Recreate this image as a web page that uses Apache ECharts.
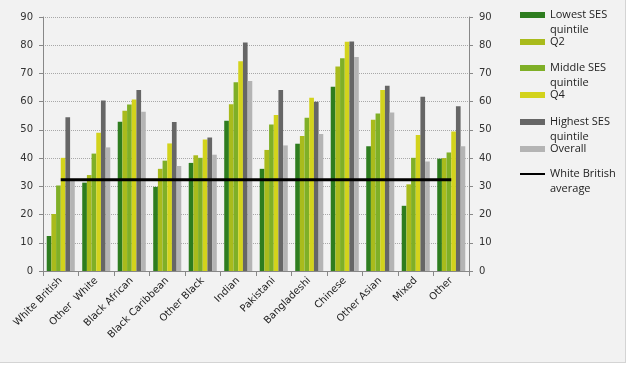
<!DOCTYPE html>
<html>
<head>
<meta charset="utf-8">
<script src="https://cdn.jsdelivr.net/npm/echarts@6/dist/echarts.min.js"></script>
<style>
html,body{margin:0;padding:0;background:#ffffff;}
#chart{position:absolute;left:0;top:0;width:625px;height:362px;background:#f2f2f2;border-right:1px solid #d4d4d4;border-bottom:1px solid #d4d4d4;}
</style>
</head>
<body>
<div id="chart"></div>
<script>
var categories = ['White British','Other  White','Black African','Black Caribbean','Other Black','Indian','Pakistani','Bangladeshi','Chinese','Other Asian','Mixed','Other'];
var lowest  = [12.4, 31.3, 52.9, 29.8, 38.3, 53.2, 36.2, 45.1, 65.3, 44.2, 23.1, 39.8];
var q2      = [20.2, 34.0, 56.8, 36.2, 41.0, 59.1, 42.9, 47.8, 72.5, 53.6, 30.7, 40.0];
var middle  = [30.3, 41.6, 59.0, 39.1, 40.1, 66.9, 51.9, 54.3, 75.4, 55.8, 40.1, 42.0];
var q4      = [40.1, 49.0, 60.8, 45.2, 46.6, 74.3, 55.3, 61.4, 81.2, 64.1, 48.2, 49.4];
var highest = [54.5, 60.4, 64.1, 52.8, 47.3, 81.0, 64.1, 60.0, 81.3, 65.6, 61.7, 58.4];
var overall = [32.0, 43.8, 56.4, 37.2, 41.2, 67.3, 44.5, 48.5, 75.8, 56.2, 38.8, 44.2];
var whiteBritishAverage = 32.3;
var yTicks = [0, 10, 20, 30, 40, 50, 60, 70, 80, 90];

var avgLine = categories.map(function(){ return whiteBritishAverage; });

var barDefs = [
  {name:'Lowest SES quintile', data: lowest,  color:'#2e7d1f'},
  {name:'Q2',                  data: q2,      color:'#a9bb1c'},
  {name:'Middle SES quintile', data: middle,  color:'#7faf27'},
  {name:'Q4',                  data: q4,      color:'#d3d31c'},
  {name:'Highest SES quintile',data: highest, color:'#666666'},
  {name:'Overall',             data: overall, color:'#b4b4b4'}
];
// leading empty line keeps the swatch level with the first text line
var legendTexts = {
  'Lowest SES quintile':' \nLowest SES\nquintile',
  'Middle SES quintile':' \nMiddle SES\nquintile',
  'Highest SES quintile':' \nHighest SES\nquintile',
  'White British average':' \nWhite British\naverage'
};
var legendCenters = [15, 42, 68, 95, 122, 149, 174];

var series = barDefs.map(function(d){
  return {name:d.name, type:'bar', data:d.data, barGap:'0%', barCategoryGap:'21%',
    itemStyle:{color:d.color}, animation:false};
});
series.push({name:'White British average', type:'line', data:avgLine, symbol:'none',
  lineStyle:{color:'#000000', width:3}, itemStyle:{color:'#000000'}, z:10, animation:false});

var allNames = barDefs.map(function(d){return d.name;}).concat(['White British average']);
var legends = allNames.map(function(n, i){
  var three = !!legendTexts[n];
  var isLine = n === 'White British average';
  return {
    left: 520, top: legendCenters[i] - (three ? 22.5 : 7.5),
    orient:'vertical',
    data:[{name:n, icon:'rect'}],
    itemWidth: 25, itemHeight: isLine ? 2 : 6, itemGap: 2,
    padding: 0,
    selectedMode:false,
    formatter: function(name){ return legendTexts[name] || name; },
    textStyle:{fontFamily:'Open Sans', fontSize:11, color:'#222', lineHeight:15}
  };
});

var chart = echarts.init(document.getElementById('chart'));
var yAxisCommon = {
  type:'value', min:0, max:90, interval:10,
  axisLine:{show:true, lineStyle:{color:'#888888'}},
  axisTick:{show:true, length:4, lineStyle:{color:'#888888'}},
  axisLabel:{fontFamily:'DejaVu Sans', fontSize:10, color:'#333333', margin:10,
    formatter:function(v){ return yTicks.indexOf(v) >= 0 ? String(v) : ''; }}
};
chart.setOption({
  backgroundColor:'#f2f2f2',
  animation:false,
  grid:{left:43, right:156, top:17, bottom:91, containLabel:false},
  legend: legends,
  xAxis:{type:'category', data:categories, boundaryGap:true,
    axisLine:{lineStyle:{color:'#888888'}},
    axisTick:{show:true, length:5, alignWithLabel:false, lineStyle:{color:'#888888'}},
    axisLabel:{rotate:45, interval:0, fontFamily:'DejaVu Sans', fontSize:10, color:'#222222', margin:8}
  },
  yAxis:[
    Object.assign({}, yAxisCommon, {position:'left',
      splitLine:{show:true, lineStyle:{color:'#a8a8a8', type:[1,1], width:1}}}),
    Object.assign({}, yAxisCommon, {position:'right', splitLine:{show:false}})
  ],
  series: series
});
</script>
</body>
</html>
